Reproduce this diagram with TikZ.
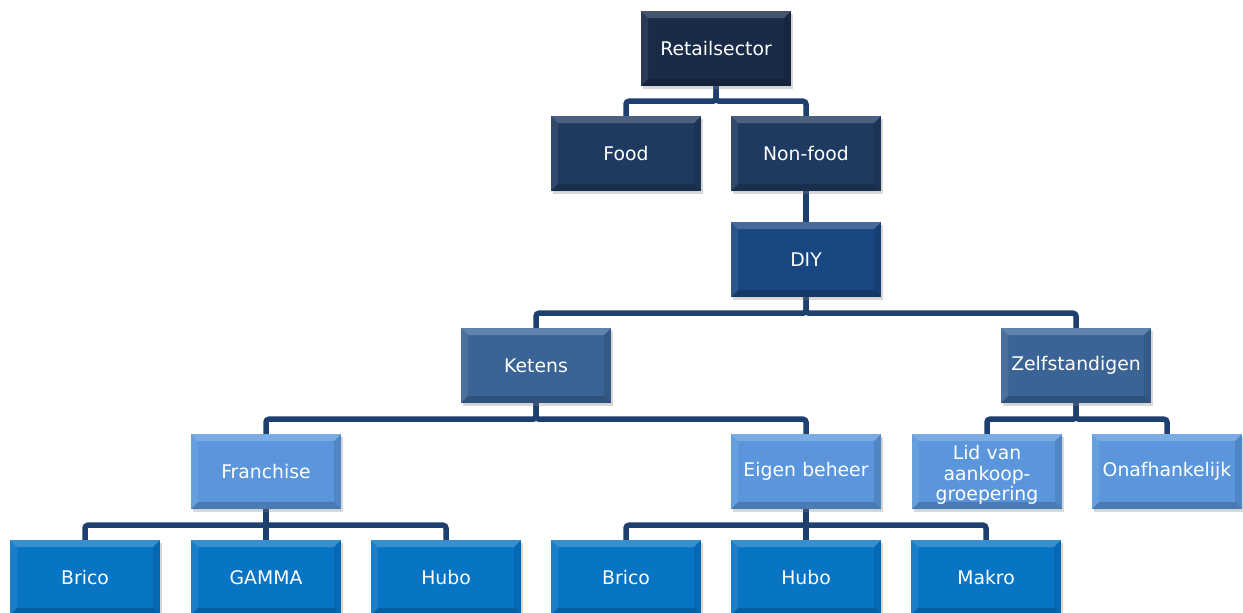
\documentclass[tikz,border=0pt]{standalone}
\usepackage{fontspec}
\setmainfont{DejaVu Sans}
\usetikzlibrary{shadows,backgrounds}
\definecolor{cA}{HTML}{1A2B48}
\definecolor{cB}{HTML}{1F3A60}
\definecolor{cC}{HTML}{194782}
\definecolor{cD}{HTML}{3B6496}
\definecolor{cE}{HTML}{5B96DC}
\definecolor{cF}{HTML}{0774C4}
\definecolor{linec}{HTML}{1E406E}
\tikzset{
  box/.style={draw=none, minimum width=150pt, minimum height=75pt, inner sep=0pt,
    text width=148pt, align=center, text=white,
    font=\fontsize{18.8}{20.8}\selectfont,
    drop shadow={opacity=0.3, shadow xshift=2pt, shadow yshift=-3pt},
    path picture={
      \fill[white,opacity=0.2] (path picture bounding box.north west) -- (path picture bounding box.north east)
        -- ([shift={(-7pt,-7pt)}]path picture bounding box.north east) -- ([shift={(7pt,-7pt)}]path picture bounding box.north west) -- cycle;
      \fill[black,opacity=0.18] (path picture bounding box.south west) -- (path picture bounding box.south east)
        -- ([shift={(-7pt,7pt)}]path picture bounding box.south east) -- ([shift={(7pt,7pt)}]path picture bounding box.south west) -- cycle;
      \fill[white,opacity=0.08] (path picture bounding box.north west) -- ([shift={(7pt,-7pt)}]path picture bounding box.north west)
        -- ([shift={(7pt,7pt)}]path picture bounding box.south west) -- (path picture bounding box.south west) -- cycle;
      \fill[black,opacity=0.1] (path picture bounding box.north east) -- ([shift={(-7pt,-7pt)}]path picture bounding box.north east)
        -- ([shift={(-7pt,7pt)}]path picture bounding box.south east) -- (path picture bounding box.south east) -- cycle;
    }},
  conn/.style={line width=5.5pt, draw=linec, rounded corners=3pt}
}
\begin{document}
\begin{tikzpicture}[x=1pt,y=-1pt]
\useasboundingbox (0,0) rectangle (1243,613);
% boxes
\node[box,fill=cA] (ret) at (716,48.5) {Retailsector};
\node[box,fill=cB] (food) at (626,153.5) {Food};
\node[box,fill=cB] (nonfood) at (806,153.5) {Non-food};
\node[box,fill=cC] (diy) at (806,259.5) {DIY};
\node[box,fill=cD] (ketens) at (536,365.5) {Ketens};
\node[box,fill=cD] (zelf) at (1076,365.5) {Zelfstandigen};
\node[box,fill=cE] (fran) at (266,471.5) {Franchise};
\node[box,fill=cE] (eigen) at (806,471.5) {Eigen beheer};
\node[box,fill=cE] (lid) at (987,471.5) {\raisebox{-3.5pt}[\height][\depth]{\parbox{148pt}{\centering Lid van\\aankoop-\\groepering}}};
\node[box,fill=cE] (onaf) at (1167,471.5) {Onafhankelijk};
\node[box,fill=cF] (brico1) at (85,577.5) {Brico};
\node[box,fill=cF] (gamma) at (266,577.5) {GAMMA};
\node[box,fill=cF] (hubo1) at (446,577.5) {Hubo};
\node[box,fill=cF] (brico2) at (626,577.5) {Brico};
\node[box,fill=cF] (hubo2) at (806,577.5) {Hubo};
\node[box,fill=cF] (makro) at (986,577.5) {Makro};
% connectors
\begin{scope}[on background layer]
\fill[white] (0,0) rectangle (1243,613);
\draw[conn] (ret.south) -- ++(0,15) -| (food.north);
\draw[conn] (ret.south) -- ++(0,15) -| (nonfood.north);
\draw[conn] (nonfood.south) -- (diy.north);
\draw[conn] (diy.south) -- ++(0,16) -| (ketens.north);
\draw[conn] (diy.south) -- ++(0,16) -| (zelf.north);
\draw[conn] (ketens.south) -- ++(0,16) -| (fran.north);
\draw[conn] (ketens.south) -- ++(0,16) -| (eigen.north);
\draw[conn] (zelf.south) -- ++(0,16) -| (lid.north);
\draw[conn] (zelf.south) -- ++(0,16) -| (onaf.north);
\draw[conn] (fran.south) -- ++(0,16) -| (brico1.north);
\draw[conn] (fran.south) -- (gamma.north);
\draw[conn] (fran.south) -- ++(0,16) -| (hubo1.north);
\draw[conn] (eigen.south) -- ++(0,16) -| (brico2.north);
\draw[conn] (eigen.south) -- (hubo2.north);
\draw[conn] (eigen.south) -- ++(0,16) -| (makro.north);
\end{scope}
\end{tikzpicture}
\end{document}
